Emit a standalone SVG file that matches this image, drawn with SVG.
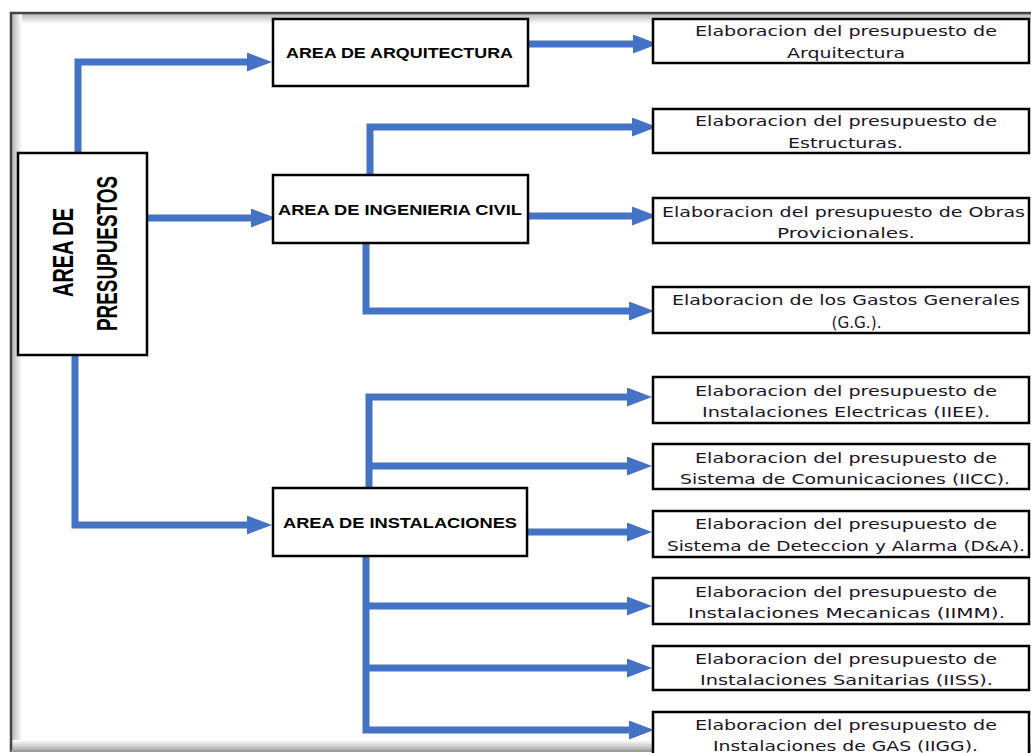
<svg xmlns="http://www.w3.org/2000/svg" width="1031" height="753" viewBox="0 0 1031 753">
<defs>
<linearGradient id="gTop" x1="0" y1="0" x2="0" y2="1"><stop offset="0" stop-color="#b8b8b8"/><stop offset="1" stop-color="#ffffff"/></linearGradient>
<linearGradient id="gLeft" x1="0" y1="0" x2="1" y2="0"><stop offset="0" stop-color="#b8b8b8"/><stop offset="1" stop-color="#ffffff"/></linearGradient>
<linearGradient id="gBot" x1="0" y1="1" x2="0" y2="0"><stop offset="0" stop-color="#b0b0b0"/><stop offset="1" stop-color="#ffffff"/></linearGradient>
<marker id="arr" markerUnits="userSpaceOnUse" markerWidth="25" markerHeight="19" refX="1" refY="9.5" orient="auto" viewBox="0 0 25 19">
<path d="M0,0 L25,9.5 L0,19 Z" fill="#4472C4"/>
</marker>
</defs>
<style>
.box{fill:#fff;stroke:#000;stroke-width:2.5}
.lbl{font-family:"Liberation Sans",Arial,sans-serif;font-weight:bold;fill:#000;text-anchor:middle}
.sm{font-family:"DejaVu Sans",Verdana,sans-serif;font-size:13.5px;fill:#1e1428;text-anchor:middle}
.con path{fill:none;stroke:#4472C4;stroke-width:7;stroke-linejoin:miter}
</style>
<rect x="0" y="0" width="1031" height="753" fill="#fff"/>
<g id="frame">
<rect x="12" y="14" width="1019" height="10" fill="url(#gTop)"/>
<rect x="12" y="14" width="10" height="736" fill="url(#gLeft)"/>
<rect x="12" y="740" width="1019" height="10" fill="url(#gBot)"/>
<path d="M11,752 V13 H1031" fill="none" stroke="#444" stroke-width="2.5"/>
<path d="M11,751 H1031" fill="none" stroke="#9a9a9a" stroke-width="2"/>
</g>
<g class="con" id="connectors">
<path d="M78,153 V62 H248" marker-end="url(#arr)"/>
<path d="M147,218 H252" marker-end="url(#arr)"/>
<path d="M75,355 V525 H248" marker-end="url(#arr)"/>
<path d="M523,44 H634" marker-end="url(#arr)"/>
<path d="M370,175 V127 H633" marker-end="url(#arr)"/>
<path d="M523,216 H633" marker-end="url(#arr)"/>
<path d="M366,243 V311 H630" marker-end="url(#arr)"/>
<path d="M369,492 V397 H628" marker-end="url(#arr)"/>
<path d="M369,466 H628" marker-end="url(#arr)"/>
<path d="M527,532 H628" marker-end="url(#arr)"/>
<path d="M366,556 V730 H630" marker-end="url(#arr)"/>
<path d="M366,606 H628" marker-end="url(#arr)"/>
<path d="M366,668 H628" marker-end="url(#arr)"/>
</g>
<g id="presupuestos">
<rect class="box" x="18" y="153" width="129" height="202"/>
<text class="lbl" font-size="30" transform="translate(73,252.5) rotate(-90)" textLength="89" lengthAdjust="spacingAndGlyphs">AREA DE</text>
<text class="lbl" font-size="30" transform="translate(117,253.5) rotate(-90)" textLength="155" lengthAdjust="spacingAndGlyphs">PRESUPUESTOS</text>
</g>
<g id="arquitectura">
<rect class="box" x="273" y="19" width="255" height="67"/>
<text class="lbl" font-size="15" x="399.5" y="58" textLength="227" lengthAdjust="spacingAndGlyphs">AREA DE ARQUITECTURA</text>
</g>
<g id="civil">
<rect class="box" x="273" y="175" width="255" height="68"/>
<text class="lbl" font-size="15" x="400" y="215" textLength="244" lengthAdjust="spacingAndGlyphs">AREA DE INGENIERIA CIVIL</text>
</g>
<g id="instalaciones">
<rect class="box" x="273" y="488" width="254" height="68"/>
<text class="lbl" font-size="15" x="400" y="528" textLength="234" lengthAdjust="spacingAndGlyphs">AREA DE INSTALACIONES</text>
</g>
<g id="e-arq">
<rect class="box" x="653" y="19" width="376" height="44"/>
<text class="sm" x="846" y="36" textLength="302" lengthAdjust="spacingAndGlyphs">Elaboracion del presupuesto de</text>
<text class="sm" x="846" y="58" textLength="118" lengthAdjust="spacingAndGlyphs">Arquitectura</text>
</g>
<g id="e-est">
<rect class="box" x="653" y="109" width="376" height="44"/>
<text class="sm" x="846" y="126" textLength="302" lengthAdjust="spacingAndGlyphs">Elaboracion del presupuesto de</text>
<text class="sm" x="845.5" y="148" textLength="115" lengthAdjust="spacingAndGlyphs">Estructuras.</text>
</g>
<g id="e-obras">
<rect class="box" x="653" y="198" width="376" height="45"/>
<text class="sm" x="843.5" y="217" textLength="363" lengthAdjust="spacingAndGlyphs">Elaboracion del presupuesto de Obras</text>
<text class="sm" x="846" y="238" textLength="138" lengthAdjust="spacingAndGlyphs">Provicionales.</text>
</g>
<g id="e-gg">
<rect class="box" x="653" y="287" width="376" height="46"/>
<text class="sm" x="846" y="305" textLength="348" lengthAdjust="spacingAndGlyphs">Elaboracion de los Gastos Generales</text>
<text class="sm" x="856.5" y="328" font-size="15" style="font-size:15px" textLength="50" lengthAdjust="spacingAndGlyphs">(G.G.).</text>
</g>
<g id="e-iiee">
<rect class="box" x="653" y="377" width="376" height="46"/>
<text class="sm" x="846" y="396" textLength="302" lengthAdjust="spacingAndGlyphs">Elaboracion del presupuesto de</text>
<text class="sm" x="846" y="417" textLength="288" lengthAdjust="spacingAndGlyphs">Instalaciones Electricas (IIEE).</text>
</g>
<g id="e-iicc">
<rect class="box" x="653" y="444" width="376" height="45"/>
<text class="sm" x="846" y="463" textLength="302" lengthAdjust="spacingAndGlyphs">Elaboracion del presupuesto de</text>
<text class="sm" x="845" y="484" textLength="330" lengthAdjust="spacingAndGlyphs">Sistema de Comunicaciones (IICC).</text>
</g>
<g id="e-da">
<rect class="box" x="653" y="511" width="376" height="46"/>
<text class="sm" x="846" y="529" textLength="302" lengthAdjust="spacingAndGlyphs">Elaboracion del presupuesto de</text>
<text class="sm" x="846" y="551" textLength="358" lengthAdjust="spacingAndGlyphs">Sistema de Deteccion y Alarma (D&amp;A).</text>
</g>
<g id="e-iimm">
<rect class="box" x="653" y="578" width="376" height="46"/>
<text class="sm" x="846" y="597" textLength="302" lengthAdjust="spacingAndGlyphs">Elaboracion del presupuesto de</text>
<text class="sm" x="846.5" y="618" textLength="317" lengthAdjust="spacingAndGlyphs">Instalaciones Mecanicas (IIMM).</text>
</g>
<g id="e-iiss">
<rect class="box" x="653" y="646" width="376" height="44"/>
<text class="sm" x="846" y="664" textLength="302" lengthAdjust="spacingAndGlyphs">Elaboracion del presupuesto de</text>
<text class="sm" x="846.5" y="685" textLength="293" lengthAdjust="spacingAndGlyphs">Instalaciones Sanitarias (IISS).</text>
</g>
<g id="e-iigg">
<rect class="box" x="653" y="712" width="376" height="60"/>
<text class="sm" x="846" y="730" textLength="302" lengthAdjust="spacingAndGlyphs">Elaboracion del presupuesto de</text>
<text class="sm" x="845.5" y="751" textLength="265" lengthAdjust="spacingAndGlyphs">Instalaciones de GAS (IIGG).</text>
</g>
</svg>
